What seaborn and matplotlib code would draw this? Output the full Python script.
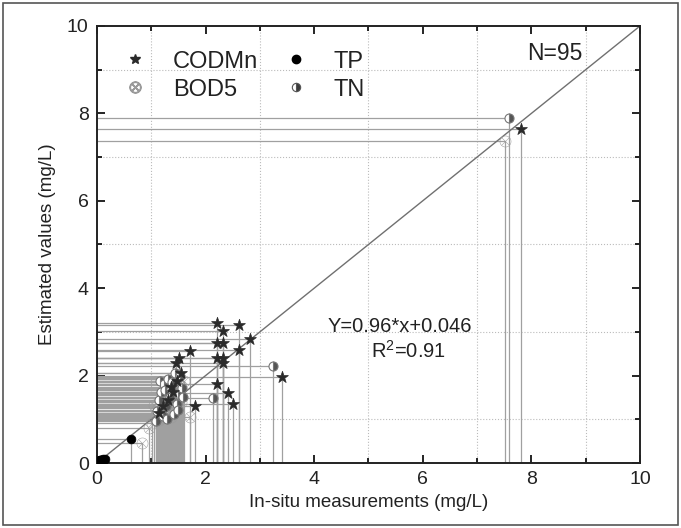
import numpy as np
import pandas as pd
import matplotlib
matplotlib.use('Agg')
import matplotlib.pyplot as plt
from matplotlib.lines import Line2D
from matplotlib.patches import Rectangle
from matplotlib.ticker import MultipleLocator
import seaborn as sns

# values (in-situ vs estimated, mg/L)
codmn_x = [7.81, 3.41, 2.82, 2.62, 2.62, 2.51, 2.41, 2.32, 2.32, 2.32, 2.32, 2.21, 2.21,
           2.21, 2.21, 1.80, 1.71, 1.51, 1.45, 1.55, 1.48, 1.40, 1.30, 1.22, 1.15, 1.36]
codmn_y = [7.64, 1.97, 2.84, 3.15, 2.59, 1.35, 1.60, 3.02, 2.75, 2.40, 2.29, 3.20, 2.75,
           2.40, 1.81, 1.30, 2.56, 2.40, 2.29, 2.05, 1.88, 1.62, 1.45, 1.30, 1.15, 1.75]

bod5_x = [7.51, 1.71, 0.83, 1.02, 1.08, 1.12, 1.15, 1.18, 1.22, 1.25, 1.28, 1.30, 1.33,
          1.36, 1.40, 1.43, 1.46, 1.50, 1.52, 1.55, 1.05, 1.20, 1.38, 1.48, 0.95, 1.60]
bod5_y = [7.37, 1.05, 0.46, 0.92, 1.10, 1.25, 0.98, 1.42, 1.55, 1.18, 1.70, 1.35, 1.85,
          1.05, 1.62, 1.48, 1.95, 1.28, 1.78, 1.40, 1.32, 1.02, 1.15, 1.60, 0.80, 1.88]

tn_x = [7.59, 3.24, 2.14, 1.10, 1.14, 1.18, 1.21, 1.24, 1.27, 1.31, 1.34, 1.37, 1.41,
        1.44, 1.47, 1.50, 1.53, 1.56, 1.16, 1.29, 1.39, 1.49, 1.08, 1.58, 1.26]
tn_y = [7.89, 2.22, 1.49, 1.20, 1.45, 1.62, 1.08, 1.80, 1.30, 1.92, 1.52, 1.70, 1.12,
        2.05, 1.35, 1.58, 1.98, 1.72, 1.88, 1.00, 1.85, 1.22, 0.95, 1.50, 1.66]

tp_x = [0.63, 0.02, 0.03, 0.04, 0.05, 0.06, 0.07, 0.08, 0.09, 0.10, 0.11, 0.12, 0.04,
        0.06, 0.08, 0.10, 0.05, 0.14]
tp_y = [0.55, 0.03, 0.02, 0.05, 0.04, 0.06, 0.03, 0.07, 0.05, 0.08, 0.06, 0.09, 0.01,
        0.02, 0.04, 0.03, 0.07, 0.10]

sns.set_style('white')
plt.rcParams['font.family'] = ['Liberation Sans', 'DejaVu Sans']
plt.rcParams['mathtext.fontset'] = 'custom'
plt.rcParams['mathtext.rm'] = 'Liberation Sans'

fig = plt.figure(figsize=(6.81, 5.28), dpi=100)
ax = fig.add_axes([0.1424, 0.1231, 0.7974, 0.8277])

# outer frame of the figure
fig.patches.append(Rectangle((0.005, 0.006), 0.99, 0.988, transform=fig.transFigure,
                             fill=False, edgecolor='#555555', lw=1.2))

# drop lines to both axes for every point
line_col = '#a0a0a0'
all_x = codmn_x + bod5_x + tn_x + tp_x
all_y = codmn_y + bod5_y + tn_y + tp_y
ax.hlines(all_y, 0, all_x, color=line_col, lw=0.9, zorder=1)
ax.vlines(all_x, 0, all_y, color=line_col, lw=0.9, zorder=1)

# 1:1 line
ax.plot([0, 10], [0, 10], color='#707070', lw=1.0, zorder=2)

codmn = pd.DataFrame({'x': codmn_x, 'y': codmn_y})
bod5 = pd.DataFrame({'x': bod5_x, 'y': bod5_y})
tp = pd.DataFrame({'x': tp_x, 'y': tp_y})

sns.scatterplot(data=bod5, x='x', y='y', marker=r'$\otimes$', s=70, color='#9a9a9a',
                linewidth=0, ax=ax, zorder=3)
ax.plot(tn_x, tn_y, ls='none', marker='o', ms=6.5, fillstyle='right',
        markerfacecolor='#555555', markerfacecoloralt='white', markeredgecolor='#777777',
        markeredgewidth=0.8, zorder=4)
sns.scatterplot(data=codmn, x='x', y='y', marker='*', s=80, color='#2a2a2a',
                edgecolor='#2a2a2a', linewidth=0.5, ax=ax, zorder=5)
sns.scatterplot(data=tp, x='x', y='y', marker='o', s=40, color='black',
                edgecolor='black', linewidth=0.5, ax=ax, zorder=5)

ax.set_xlim(0, 10)
ax.set_ylim(0, 10)
ax.xaxis.set_major_locator(MultipleLocator(2))
ax.yaxis.set_major_locator(MultipleLocator(2))
ax.xaxis.set_minor_locator(MultipleLocator(1))
ax.yaxis.set_minor_locator(MultipleLocator(1))
ax.tick_params(which='both', direction='in', top=True, right=True, bottom=True, left=True,
               color='black', width=1.2, labelsize=14, labelcolor='#222222')
ax.tick_params(which='major', length=6, pad=6)
ax.tick_params(which='minor', length=3.5)
ax.grid(True, which='minor', ls=':', color='#bbbbbb', lw=0.8)
ax.grid(False, which='major')
for sp in ax.spines.values():
    sp.set_color('#222222')
    sp.set_linewidth(1.4)

ax.set_xlabel('In-situ measurements (mg/L)', fontsize=13.5, color='#222222', labelpad=4)
ax.set_ylabel('Estimated values (mg/L)', fontsize=13.5, color='#222222', labelpad=8)

ax.text(8.43, 9.36, 'N=95', fontsize=16.5, ha='center', va='center', color='#222222')
ax.text(5.58, 3.13, 'Y=0.96*x+0.046', fontsize=14.5, ha='center', va='center', color='#222222')
ax.text(5.73, 2.56, r'R$^2$=0.91', fontsize=14.5, ha='center', va='center', color='#222222')

handles = [
    Line2D([], [], ls='none', marker='*', ms=7, color='#2a2a2a'),
    Line2D([], [], ls='none', marker=r'$\otimes$', ms=8, color='#9a9a9a'),
    Line2D([], [], ls='none', marker='o', ms=6, color='black'),
    Line2D([], [], ls='none', marker='o', ms=6, fillstyle='right', markerfacecolor='#3a3a3a',
           markerfacecoloralt='white', markeredgecolor='#555555', markeredgewidth=0.8),
]
labels = ['CODMn', 'BOD5', 'TP', 'TN']
ax.legend(handles, labels, ncol=2, loc='upper left', bbox_to_anchor=(-0.012, 0.992),
          frameon=False, fontsize=17, handletextpad=0.6, columnspacing=0.6,
          labelspacing=0.25, labelcolor='#222222')

fig.savefig('out.png', dpi=100)
